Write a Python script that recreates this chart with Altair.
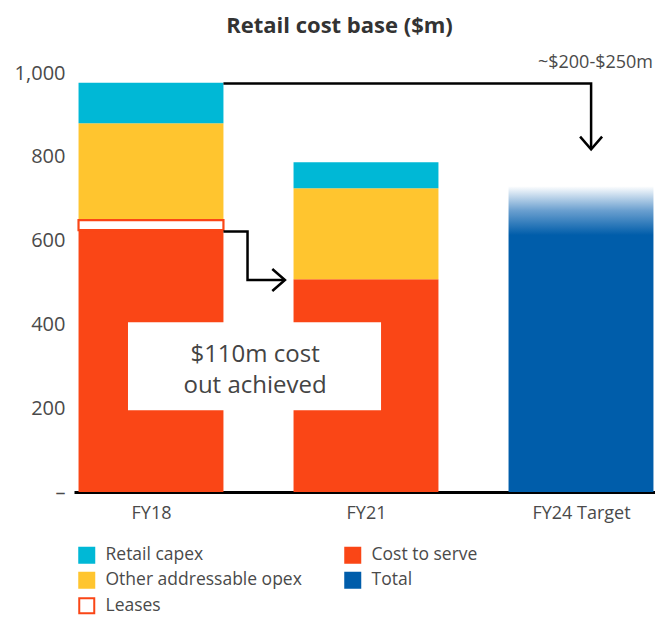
import altair as alt
import pandas as pd

# ---- data ----
periods = ["FY18", "FY21", "FY24 Target"]
period_pos = [0.5, 1.5, 2.5]
cost_to_serve = [625, 508]
leases = [24, 0]
other_opex = [231, 217]
retail_capex = [97, 62]
target_total = [730]

# legend order (column-major, two columns)
categories = ["Retail capex", "Other addressable opex", "Leases", "Cost to serve", "Total"]
fill_colors = ["#00B8D6", "#FFC52F", "#FFFFFF", "#FA4616", "#005DAA"]
stroke_colors = ["#00B8D6", "#FFC52F", "#FA4616", "#FA4616", "#005DAA"]

HALF = 0.337
FONT = "Open Sans"
TXT = "#4a4a4a"

rows = []
for i in range(2):
    c, l, o, r = cost_to_serve[i], leases[i], other_opex[i], retail_capex[i]
    segs = [("Cost to serve", 0, c), ("Other addressable opex", c + l, c + l + o),
            ("Retail capex", c + l + o, c + l + o + r)]
    if l > 0:
        segs.append(("Leases", c, c + l))
    for k, (cat, a, b) in enumerate(segs):
        rows.append({"x0": period_pos[i] - HALF, "x1": period_pos[i] + HALF,
                     "y0": a, "y1": b, "category": cat, "ord": k})
bars_df = pd.DataFrame(rows)

target_df = pd.DataFrame({"x0": [period_pos[2] - HALF], "x1": [period_pos[2] + HALF],
                          "y0": [0], "y1": target_total})

# annotation paths (data units)
fy18_top = cost_to_serve[0] + leases[0] + other_opex[0] + retail_capex[0] - 2
arrow_df = pd.DataFrame({
    "line": ["a"] * 3 + ["b"] * 4,
    "o": [0, 1, 2, 0, 1, 2, 3],
    "x": [period_pos[0] + HALF, 2.547, 2.547,
          period_pos[0] + HALF, 0.949, 0.949, 1.120],
    "y": [fy18_top, fy18_top, 820, 622, 622, 506, 506],
})
head_down = pd.DataFrame({"x": [2.547], "y": [818]})
head_right = pd.DataFrame({"x": [1.123], "y": [506]})

box_df = pd.DataFrame({"x0": [0.393], "x1": [1.570], "y0": [195], "y1": [405]})
box_text = pd.DataFrame({"x": [0.984, 0.984], "y": [327, 254],
                         "t": ["$110m cost", "out achieved"]})
range_text = pd.DataFrame({"x": [2.835], "y": [1024], "t": ["~$200-$250m"]})

xscale = alt.Scale(domain=[0.1419, 2.8442], nice=False, zero=False)
yscale = alt.Scale(domain=[0, 1000], nice=False)

x_axis = alt.Axis(values=period_pos, labelExpr="['FY18','FY21','FY24 Target'][floor(datum.value)]",
                  ticks=False, grid=False, domainColor="#000000", domainWidth=3,
                  labelFontSize=18, labelColor=TXT, labelFont=FONT, labelPadding=12, title=None)
y_axis = alt.Axis(values=[0, 200, 400, 600, 800, 1000],
                  labelExpr="datum.value == 0 ? '–' : format(datum.value, ',')",
                  ticks=False, grid=False, domain=False, labelFontSize=20, labelColor=TXT,
                  labelFont=FONT, labelPadding=9, title=None)

bars = alt.Chart(bars_df).mark_rect().encode(
    x=alt.X("x0:Q", scale=xscale, axis=x_axis),
    x2="x1:Q",
    y=alt.Y("y0:Q", scale=yscale, axis=y_axis),
    y2="y1:Q",
    fill=alt.Fill("category:N", scale=alt.Scale(domain=categories, range=fill_colors),
                  legend=alt.Legend(title=None, orient="none", legendX=4, legendY=473,
                                    columns=2, columnPadding=39, rowPadding=1.5,
                                    symbolType="square", symbolSize=225, symbolStrokeWidth=2,
                                    labelFontSize=17.5, labelColor=TXT, labelFont=FONT,
                                    labelOffset=10, labelLimit=400, symbolOpacity=1)),
    stroke=alt.Stroke("category:N", scale=alt.Scale(domain=categories, range=stroke_colors)),
    strokeWidth=alt.condition("datum.category == 'Leases'", alt.value(2.2), alt.value(0)),
    order="ord:Q",
)

target = alt.Chart(target_df).mark_rect(
    color=alt.Gradient(gradient="linear", x1=0, y1=1, x2=0, y2=0,
                       stops=[alt.GradientStop(color="#005DAA", offset=0),
                              alt.GradientStop(color="#005DAA", offset=0.84),
                              alt.GradientStop(color="#6A9FCF", offset=0.92),
                              alt.GradientStop(color="#FFFFFF", offset=1)])
).encode(x=alt.X("x0:Q", scale=xscale), x2="x1:Q", y=alt.Y("y0:Q", scale=yscale), y2="y1:Q")

lines = alt.Chart(arrow_df).mark_line(color="#000000", strokeWidth=2.5, strokeJoin="miter",
                                      strokeCap="butt").encode(
    x=alt.X("x:Q", scale=xscale), y=alt.Y("y:Q", scale=yscale), detail="line:N", order="o:Q")

hd = alt.Chart(head_down).mark_point(shape="M-1,-1.15L0,0L1,-1.15", filled=False, size=484,
                                     color="#000000", strokeWidth=2.5, opacity=1).encode(
    x=alt.X("x:Q", scale=xscale), y=alt.Y("y:Q", scale=yscale))
hr = alt.Chart(head_right).mark_point(shape="M-1.15,-1L0,0L-1.15,1", filled=False, size=484,
                                      color="#000000", strokeWidth=2.5, opacity=1).encode(
    x=alt.X("x:Q", scale=xscale), y=alt.Y("y:Q", scale=yscale))

box = alt.Chart(box_df).mark_rect(color="#FFFFFF").encode(
    x=alt.X("x0:Q", scale=xscale), x2="x1:Q", y=alt.Y("y0:Q", scale=yscale), y2="y1:Q")
btext = alt.Chart(box_text).mark_text(fontSize=24, font=FONT, color="#444444",
                                      align="center", baseline="middle").encode(
    x=alt.X("x:Q", scale=xscale), y=alt.Y("y:Q", scale=yscale), text="t:N")
rtext = alt.Chart(range_text).mark_text(fontSize=18, font=FONT, color=TXT, align="right",
                                        baseline="middle").encode(
    x=alt.X("x:Q", scale=xscale), y=alt.Y("y:Q", scale=yscale), text="t:N")

chart = alt.layer(bars, target, lines, hd, hr, box, btext, rtext).properties(
    width=581, height=419,
    background="#FFFFFF",
    padding={"left": 66, "top": 65, "right": 0, "bottom": 124},
    autosize=alt.AutoSizeParams(type="none"),
    title=alt.TitleParams("Retail cost base ($m)", fontSize=22, fontWeight="bold", font=FONT,
                          color="#333333", anchor="middle", frame="group", dx=-25, offset=16),
).configure_view(strokeWidth=0, stroke="transparent")

chart.save("out.html", embed_options={"renderer": "svg", "actions": False})
